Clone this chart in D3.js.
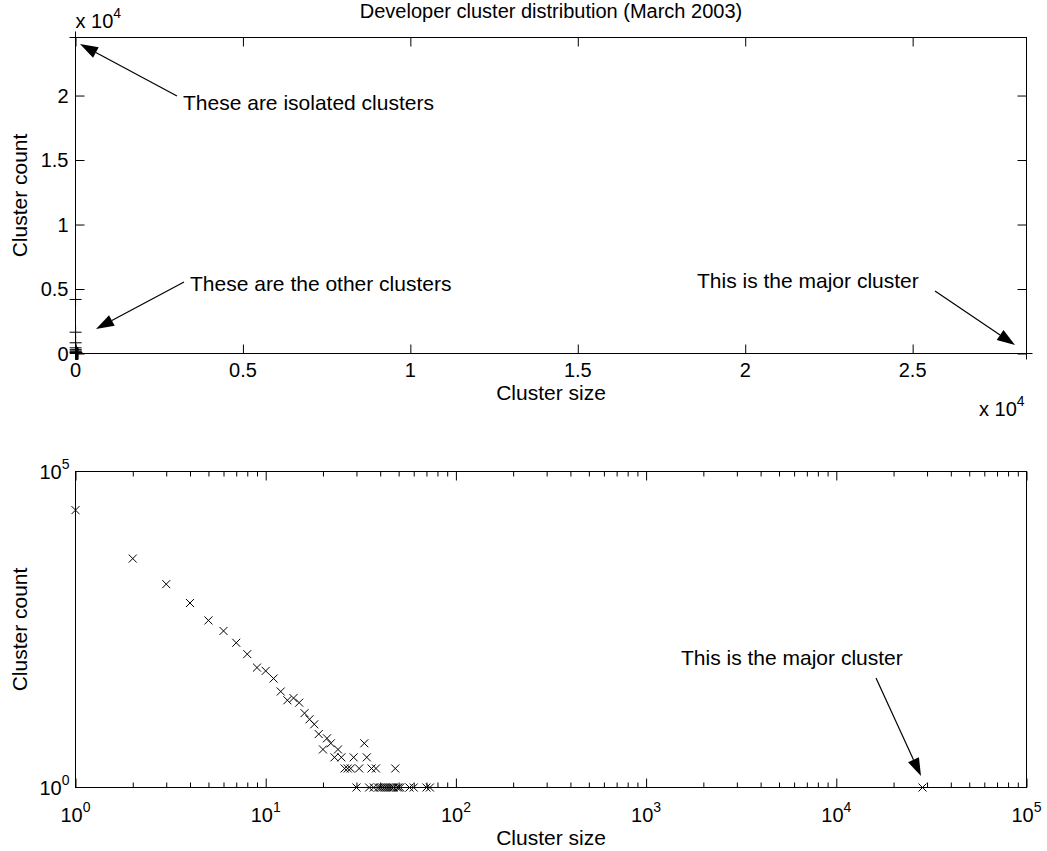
<!DOCTYPE html>
<html><head><meta charset="utf-8">
<script src="https://cdn.jsdelivr.net/npm/d3@7"></script>
<style>
body{margin:0;background:#fff}
text{font-family:"Liberation Sans",Arial,sans-serif;fill:#000}
</style>
</head><body>
<svg id="c" width="1047" height="851" xmlns="http://www.w3.org/2000/svg"></svg>
<script>
// ---- data ----
const sizes  = [1,2,3,4,5,6,7,8,9,10,11,12,13,14,15,16,17,18,19,20,21,22,23,24,25,26,27,28,29,30,31,33,34,35,36,37,38,39,40,41,42,43,44,45,46,47,48,49,50,51,57,60,70,73,28400];
const counts = [24500,4190,1650,830,440,300,195,129,79,70,53,33,24,26,22,15,12,10,7,4,6,5,3,4,3,2,2,2,3,1,2,5,3,1,2,1,2,1,1,1,1,1,1,1,1,1,2,1,1,1,1,1,1,1,1];
const topXTicks = [0,5000,10000,15000,20000,25000];
const topXTickLabels = ["0","0.5","1","1.5","2","2.5"];
const topYTicks = [0,5000,10000,15000,20000];
const topYTickLabels = ["0","0.5","1","1.5","2"];
const logXDecades = [0,1,2,3,4,5];
const logYDecades = [0,5];
const titleText = "Developer cluster distribution (March 2003)";
const xLabelText = "Cluster size";
const yLabelText = "Cluster count";
const note1 = "These are isolated clusters";
const note2 = "These are the other clusters";
const note3 = "This is the major cluster";

// ---- layout ----
const svg = d3.select("#c");
const L = 75.5, R = 1026.5, T1 = 37.5, B1 = 353.5, T2 = 471.5, B2 = 787.5;
const FS = 20, FL = 21, SUP = 14, TICK = 9, MINOR = 5;

const xTop = d3.scaleLinear().domain([0, d3.max(sizes)]).range([L, R]);
const yTop = d3.scaleLinear().domain([0, d3.max(counts)]).range([B1, T1]);
const xLog = d3.scaleLog().domain([1, 1e5]).range([L, R]);
const yLog = d3.scaleLog().domain([1, 1e5]).range([B2, T2]);

function sci(g, x, y, base, exp, anchor) {
  const t = g.append("text").attr("x", x).attr("y", y).attr("text-anchor", anchor).attr("font-size", FS);
  t.append("tspan").text(base);
  t.append("tspan").attr("dy", -10).attr("font-size", SUP).text(exp);
  return t;
}
function arrow(g, x1, y1, x2, y2) {
  const a = Math.atan2(y2 - y1, x2 - x1), len = 18, w = 6;
  const bx = x2 - len * Math.cos(a), by = y2 - len * Math.sin(a);
  g.append("line").attr("x1", x1).attr("y1", y1).attr("x2", bx).attr("y2", by).attr("stroke", "#000").attr("stroke-width", 1.2);
  const nx = -Math.sin(a), ny = Math.cos(a);
  g.append("path").attr("d", `M${x2},${y2}L${bx + w * nx},${by + w * ny}L${bx - w * nx},${by - w * ny}Z`).attr("fill", "#000");
}
function frame(top, bottom) {
  svg.append("rect").attr("x", L).attr("y", top).attr("width", R - L).attr("height", bottom - top)
    .attr("fill", "none").attr("stroke", "#000").attr("stroke-width", 1);
}
function styleAxis(g) { g.select(".domain").remove(); g.selectAll("line").attr("stroke", "#000"); g.selectAll("text").remove(); }

// ======== top plot ========
const g1 = svg.append("g");
g1.append("g").attr("transform", `translate(0,${B1})`).call(d3.axisBottom(xTop).tickValues(topXTicks).tickSize(-TICK)).call(styleAxis);
g1.append("g").attr("transform", `translate(0,${T1})`).call(d3.axisTop(xTop).tickValues(topXTicks).tickSize(-TICK)).call(styleAxis);
g1.append("g").attr("transform", `translate(${L},0)`).call(d3.axisLeft(yTop).tickValues(topYTicks).tickSize(-TICK)).call(styleAxis);
g1.append("g").attr("transform", `translate(${R},0)`).call(d3.axisRight(yTop).tickValues(topYTicks).tickSize(-TICK)).call(styleAxis);
frame(T1, B1);

topXTicks.forEach((v, i) => g1.append("text").attr("x", xTop(v)).attr("y", B1 + 23).attr("text-anchor", "middle").attr("font-size", FS).text(topXTickLabels[i]));
topYTicks.forEach((v, i) => g1.append("text").attr("x", L - 7).attr("y", yTop(v) + 7).attr("text-anchor", "end").attr("font-size", FS).text(topYTickLabels[i]));
sci(g1, L, 28, "x 10", "4", "start");
sci(g1, 979, 416, "x 10", "4", "start");

g1.selectAll("path.plus").data(sizes).join("path").attr("class", "plus")
  .attr("transform", (d, i) => `translate(${xTop(d)},${yTop(counts[i])})`)
  .attr("d", "M-6,0H6M0,-6V6").attr("stroke", "#000").attr("stroke-width", 1).attr("fill", "none");

g1.append("text").attr("x", 551).attr("y", 18).attr("text-anchor", "middle").attr("font-size", FS).text(titleText);
g1.append("text").attr("x", 551).attr("y", 400).attr("text-anchor", "middle").attr("font-size", FL).text(xLabelText);
g1.append("text").attr("transform", `translate(27,${(T1 + B1) / 2}) rotate(-90)`).attr("text-anchor", "middle").attr("font-size", FL).text(yLabelText);

g1.append("text").attr("x", 183).attr("y", 110).attr("font-size", FL).text(note1);
arrow(g1, 177, 96, 80, 44);
g1.append("text").attr("x", 190).attr("y", 291).attr("font-size", FL).text(note2);
arrow(g1, 184, 282, 96, 329);
g1.append("text").attr("x", 697).attr("y", 288).attr("font-size", FL).text(note3);
arrow(g1, 935, 291, 1015, 345);

// ======== bottom plot ========
const g2 = svg.append("g");
const allX = xLog.ticks();
const majX = logXDecades.map(e => Math.pow(10, e));
const minX = allX.filter(v => Math.abs(Math.log10(v) - Math.round(Math.log10(v))) > 1e-9);
g2.append("g").attr("transform", `translate(0,${B2})`).call(d3.axisBottom(xLog).tickValues(majX).tickSize(-TICK)).call(styleAxis);
g2.append("g").attr("transform", `translate(0,${B2})`).call(d3.axisBottom(xLog).tickValues(minX).tickSize(-MINOR)).call(styleAxis);
g2.append("g").attr("transform", `translate(0,${T2})`).call(d3.axisTop(xLog).tickValues(majX).tickSize(-TICK)).call(styleAxis);
g2.append("g").attr("transform", `translate(0,${T2})`).call(d3.axisTop(xLog).tickValues(minX).tickSize(-MINOR)).call(styleAxis);
frame(T2, B2);

logXDecades.forEach(e => sci(g2, xLog(Math.pow(10, e)), B2 + 34, "10", String(e), "middle"));
logYDecades.forEach(e => sci(g2, L - 6, yLog(Math.pow(10, e)) + 7, "10", String(e), "end"));

g2.selectAll("path.cross").data(sizes).join("path").attr("class", "cross")
  .attr("transform", (d, i) => `translate(${xLog(d)},${yLog(counts[i])})`)
  .attr("d", "M-4,-4L4,4M-4,4L4,-4").attr("stroke", "#000").attr("stroke-width", 1).attr("fill", "none");

g2.append("text").attr("x", 551).attr("y", 845).attr("text-anchor", "middle").attr("font-size", FL).text(xLabelText);
g2.append("text").attr("transform", `translate(27,${(T2 + B2) / 2}) rotate(-90)`).attr("text-anchor", "middle").attr("font-size", FL).text(yLabelText);
g2.append("text").attr("x", 681).attr("y", 665).attr("font-size", FL).text(note3);
arrow(g2, 876, 678, 921, 776);
</script>
</body></html>
